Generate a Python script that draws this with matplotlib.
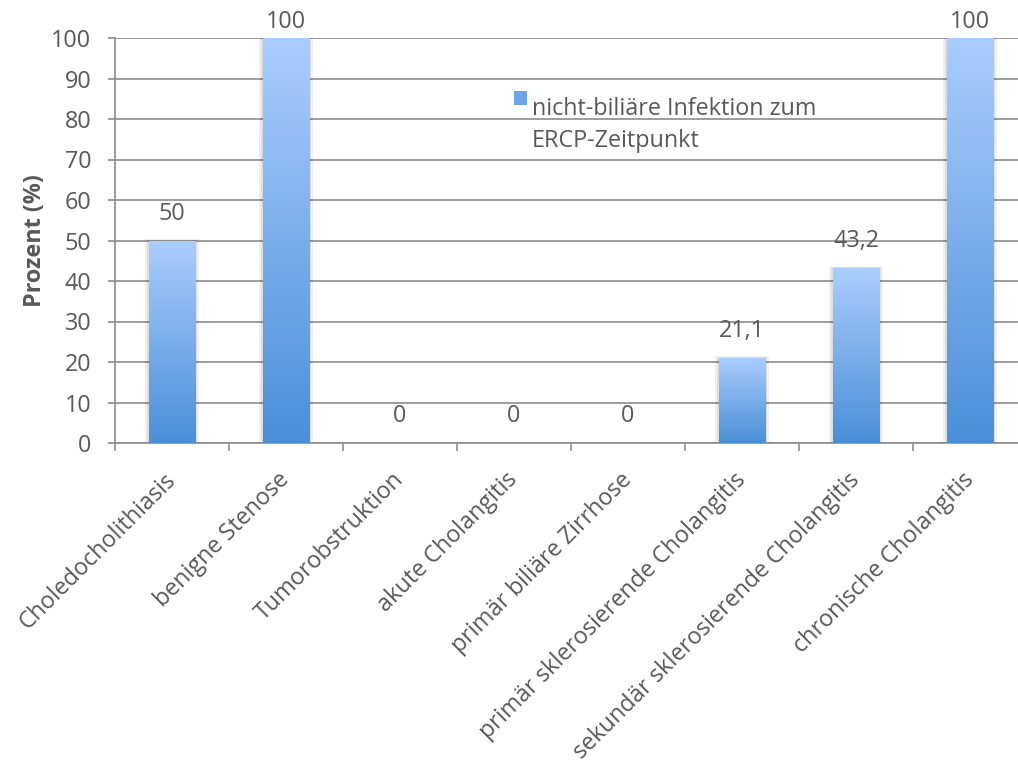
import numpy as np
import matplotlib.pyplot as plt
from matplotlib.patches import Rectangle
from matplotlib.legend_handler import HandlerPatch
from matplotlib.colors import LinearSegmentedColormap

plt.rcParams['font.family'] = ['Open Sans', 'DejaVu Sans']

categories = [
    "Choledocholithiasis",
    "benigne Stenose",
    "Tumorobstruktion",
    "akute Cholangitis",
    "primär biliäre Zirrhose",
    "primär sklerosierende Cholangitis",
    "sekundär sklerosierende Cholangitis",
    "chronische Cholangitis",
]
values = [50, 100, 0, 0, 0, 21.1, 43.2, 100]
value_labels = ["50", "100", "0", "0", "0", "21,1", "43,2", "100"]
series_name = "nicht-biliäre Infektion zum\nERCP-Zeitpunkt"
y_ticks = list(range(0, 101, 10))

text_col = "#595959"
grid_col = "#8c8c8c"
fs = 16.8
grad = LinearSegmentedColormap.from_list("bar", ["#4a8fd7", "#abcdfe"])

fig = plt.figure(figsize=(10.18, 7.62), dpi=100)
ax = fig.add_axes([115 / 1018, 1 - 443 / 762, 912 / 1018, 405 / 762])

x = np.arange(len(categories))
bars = ax.bar(x, values, width=0.41, facecolor="none", edgecolor="none", zorder=3)

gradient = np.linspace(0, 1, 256).reshape(-1, 1)
for b in bars:
    h = b.get_height()
    if h <= 0:
        continue
    x0 = b.get_x()
    w = b.get_width()
    # leichter Schatten
    for k, a in [(0.03, 0.06), (0.015, 0.08)]:
        ax.add_patch(Rectangle((x0 - k, 0), w + 2 * k, h + k * 12,
                               facecolor="#000000", alpha=a, edgecolor="none", zorder=2))
    im = ax.imshow(gradient, extent=[x0, x0 + w, 0, h], origin="lower",
                   cmap=grad, aspect="auto", zorder=3)
    im.set_clip_path(b)

for xi, v, lab in zip(x, values, value_labels):
    off = 3 if v >= 100 else 10.5
    ax.annotate(lab, (xi, v), xytext=(0, off), textcoords="offset points",
                ha="center", va="bottom", fontsize=fs, color=text_col,
                annotation_clip=False)

ax.set_xlim(-0.5, len(categories) - 0.5)
ax.set_ylim(0, 100)
ax.set_yticks(y_ticks)
ax.set_xticks(x)
ax.set_xticks(np.arange(len(categories) + 1) - 0.5, minor=True)
ax.set_xticklabels(categories, rotation=45, ha="right", va="center",
                   rotation_mode="anchor", fontsize=fs, color=text_col)
ax.tick_params(axis="x", which="major", length=0, pad=24)
ax.tick_params(axis="x", which="minor", length=6, width=1.2, color=grid_col)
ax.tick_params(axis="y", length=5, width=1.2, color=grid_col, labelsize=fs,
               labelcolor=text_col, pad=12)

ax.grid(axis="y", color=grid_col, linewidth=1.2, zorder=0)
ax.set_axisbelow(True)
for s in ["top", "right"]:
    ax.spines[s].set_visible(False)
for s in ["left", "bottom"]:
    ax.spines[s].set_color(grid_col)
    ax.spines[s].set_linewidth(1.2)

ax.set_ylabel("Prozent (%)", fontsize=fs, fontweight="bold", color=text_col, labelpad=3)


def legend_patch(legend, orig_handle, xdescent, ydescent, width, height, fontsize):
    return Rectangle((-xdescent, -ydescent + fontsize * 1.2), width, height)


handle = Rectangle((0, 0), 1, 1, facecolor="#6fa6e8", edgecolor="none")
leg = ax.legend([handle], [series_name], loc="upper left", bbox_to_anchor=(0.415, 0.905),
                frameon=False, fontsize=fs, labelcolor=text_col,
                handlelength=0.55, handleheight=0.55, handletextpad=0.2,
                handler_map={Rectangle: HandlerPatch(patch_func=legend_patch)})
for t in leg.get_texts():
    t.set_linespacing(1.4)

fig.savefig("out.png", dpi=100)
